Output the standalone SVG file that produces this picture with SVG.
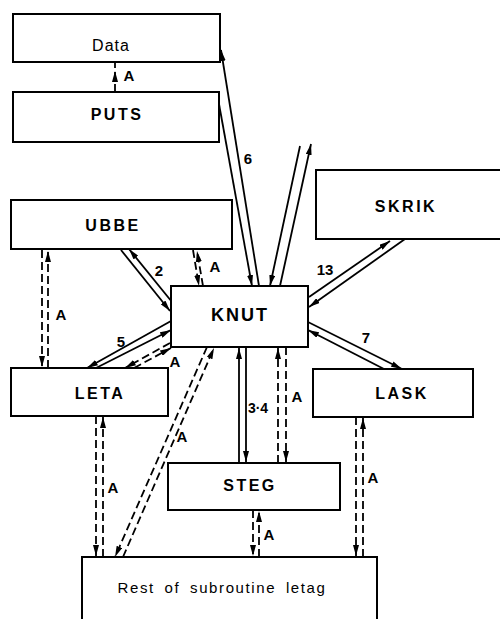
<svg xmlns="http://www.w3.org/2000/svg" width="500" height="619" viewBox="0 0 500 619">
<style>
.box{fill:#fff;stroke:#000;stroke-width:2}
.t{font-family:"Liberation Sans",Arial,sans-serif;font-weight:bold;fill:#000;text-anchor:middle}
.bl{font-size:16px;letter-spacing:2.5px}
.lb{font-size:15px}
.s{fill:none;stroke:#000;stroke-width:1.8;marker-end:url(#ah)}
.d{fill:none;stroke:#000;stroke-width:1.8;stroke-dasharray:8 4;marker-end:url(#ah)}
</style>
<defs>
<marker id="ah" markerUnits="userSpaceOnUse" markerWidth="11" markerHeight="6" viewBox="0 0 11 6" refX="11" refY="3" orient="auto">
<path d="M0,0 L11,3 L0,6 z" fill="#000"/>
</marker>
</defs>
<rect width="500" height="619" fill="#fff"/>
<g id="connectors">
<path class="d" d="M115,92 L115,71"/>
<path d="M115,68 L115,62" stroke="#000" stroke-width="1.8"/>
<path class="s" d="M259,286 L221,50"/>
<path class="s" d="M219,104 L252,286"/>
<path class="s" d="M300,146 L270,286"/>
<path class="s" d="M280,286 L311,144"/>
<path class="s" d="M121,250 L170,311"/>
<path class="s" d="M172,302 L129,249"/>
<path class="d" d="M193,250 L199,286"/>
<path class="d" d="M203,286 L197,251"/>
<path class="d" d="M42,250 L42,367"/>
<path class="d" d="M48,368 L48,251"/>
<path class="s" d="M171,321 L87,368"/>
<path class="s" d="M96,368 L171,330"/>
<path class="d" d="M170,343 L125,368"/>
<path class="d" d="M134,368 L171,348"/>
<path class="d" d="M207,347 L115,557"/>
<path class="d" d="M123,557 L214,348"/>
<path class="s" d="M239,463 L239,348"/>
<path class="s" d="M246,347 L246,462"/>
<path class="d" d="M278,463 L278,348"/>
<path class="d" d="M286,347 L286,462"/>
<path class="s" d="M309,297 L390,241"/>
<path class="s" d="M405,239 L309,307"/>
<path class="s" d="M308,322 L402,369"/>
<path class="s" d="M384,369 L308,330"/>
<path class="d" d="M96,416 L96,556"/>
<path class="d" d="M103,557 L103,417"/>
<path class="d" d="M253,510 L253,556"/>
<path class="d" d="M259,557 L259,511"/>
<path class="d" d="M356,417 L356,556"/>
<path class="d" d="M363,557 L363,418"/>
<text class="t lb" x="129" y="81">A</text>
<text class="t lb" x="248" y="164">6</text>
<text class="t lb" x="159" y="276">2</text>
<text class="t lb" x="215" y="272">A</text>
<text class="t lb" x="325" y="275">13</text>
<text class="t lb" x="61" y="320">A</text>
<text class="t lb" x="121" y="347">5</text>
<text class="t lb" x="366" y="343">7</text>
<text class="t lb" x="175" y="367">A</text>
<text class="t lb" x="297" y="402">A</text>
<text class="t lb" x="258" y="413" style="font-size:14px">3·4</text>
<text class="t lb" x="182" y="442">A</text>
<text class="t lb" x="373" y="483">A</text>
<text class="t lb" x="113" y="493">A</text>
<text class="t lb" x="269" y="540">A</text>
</g>
<g id="data"><rect class="box" x="13" y="14" width="207" height="48"/><text class="t" x="111" y="51" style="font-size:16px;font-weight:normal;letter-spacing:1px">Data</text></g>
<g id="puts"><rect class="box" x="13" y="92" width="206" height="50"/><text class="t bl" x="117" y="120">PUTS</text></g>
<g id="ubbe"><rect class="box" x="11" y="200" width="221" height="49"/><text class="t bl" x="113" y="231">UBBE</text></g>
<g id="skrik"><rect class="box" x="316" y="170" width="190" height="69"/><text class="t bl" x="406" y="212">SKRIK</text></g>
<g id="knut"><rect class="box" x="171" y="286" width="137" height="61"/><text class="t" x="240" y="321" style="font-size:18px;letter-spacing:2px">KNUT</text></g>
<g id="leta"><rect class="box" x="11" y="368" width="157" height="48"/><text class="t bl" x="100" y="399">LETA</text></g>
<g id="lask"><rect class="box" x="313" y="369" width="160" height="48"/><text class="t bl" x="402" y="399">LASK</text></g>
<g id="steg"><rect class="box" x="168" y="463" width="172" height="47"/><text class="t bl" x="250" y="491">STEG</text></g>
<g id="rest"><rect class="box" x="82" y="557" width="295" height="80"/><text class="t" x="222" y="593" style="font-size:15px;font-weight:normal;letter-spacing:1.6px;word-spacing:4px">Rest of subroutine letag</text></g>
</svg>
